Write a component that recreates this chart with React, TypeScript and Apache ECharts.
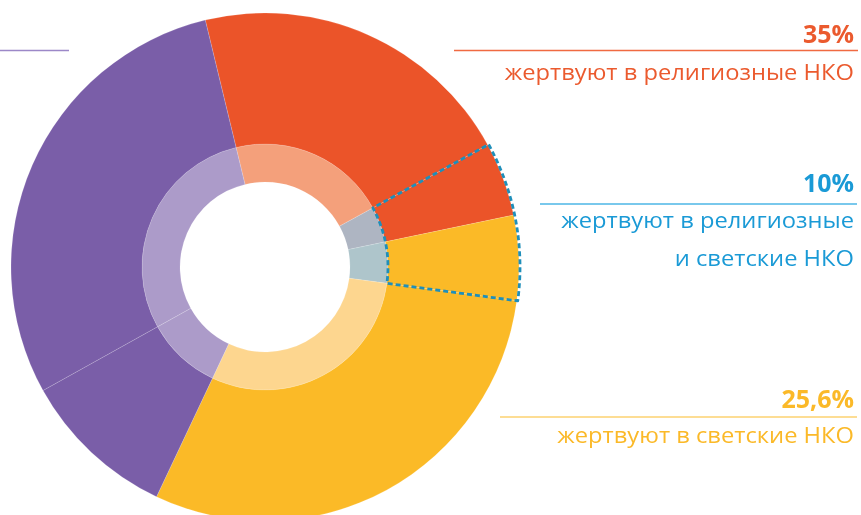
import React, { useEffect, useRef } from "react";
import * as echarts from "echarts";

// Segments, clockwise from the top-left orange/purple boundary
const segments = ["religious only", "religious (both)", "secular (both)", "secular only", "other A", "other B"];
const segmentValues = [20.8, 4.7, 5.4, 29.9, 9.9, 29.3];
const outerColors = ["#EB5429", "#EB5429", "#FBBA27", "#FBBA27", "#7A5EA8", "#7A5EA8"];
const innerColors = ["#F4A07B", "#AEB5C2", "#AEC5CB", "#FDD68F", "#AC9BC9", "#AC9BC9"];
const dashedFlags = [false, true, true, false, false, false];

const labelValues = ["35%", "10%", "25,6%"];
const labelTexts = [["жертвуют в религиозные НКО"], ["жертвуют в религиозные", "и светские НКО"], ["жертвуют в светские НКО"]];
const labelColors = ["#EB5A2E", "#1A9AD6", "#FBB928"];
const lineColors = ["#F06A42", "#4DB6E6", "#FDD271"];

export default function App() {
  const ref = useRef<HTMLDivElement>(null);
  useEffect(() => {
    if (!ref.current) return;
    const chart = echarts.init(ref.current, null, { renderer: "svg" });
    const center = [265, 267];
    const startAngle = 103.6;

    const dashedData: any[] = [];
    let acc = 0;
    let accFlag: boolean | null = null;
    segmentValues.forEach((v, i) => {
      if (accFlag === null || accFlag === dashedFlags[i]) {
        acc += v;
        accFlag = dashedFlags[i];
      } else {
        dashedData.push({ value: acc, dashed: accFlag });
        acc = v;
        accFlag = dashedFlags[i];
      }
    });
    dashedData.push({ value: acc, dashed: accFlag });

    const font = "'Open Sans', 'Noto Sans', sans-serif";
    const graphics: any[] = [
      { type: "line", shape: { x1: 0, y1: 50.5, x2: 69, y2: 50.5 }, style: { stroke: "#9C88C8", lineWidth: 1.5 } },
      { type: "line", shape: { x1: 454, y1: 50.5, x2: 858, y2: 50.5 }, style: { stroke: lineColors[0], lineWidth: 1.5 } },
      { type: "line", shape: { x1: 540, y1: 204, x2: 857, y2: 204 }, style: { stroke: lineColors[1], lineWidth: 1.5 } },
      { type: "line", shape: { x1: 500, y1: 417, x2: 857, y2: 417 }, style: { stroke: lineColors[2], lineWidth: 1.5 } },
    ];
    const numY = [33.4, 182.2, 397.5];
    const textY = [[72], [220.5, 258.5], [435]];
    labelValues.forEach((t, i) => {
      graphics.push({
        type: "text",
        x: 854,
        y: numY[i],
        style: { text: t, fill: labelColors[i], font: `bold 25px ${font}`, align: "right", verticalAlign: "middle" },
      });
      labelTexts[i].forEach((line, j) => {
        graphics.push({
          type: "text",
          x: 854,
          y: textY[i][j],
          scaleX: 1.13,
          style: { text: line, fill: labelColors[i], font: `21px ${font}`, align: "right", verticalAlign: "middle" },
        });
      });
    });

    chart.setOption({
      animation: false,
      series: [
        {
          type: "pie",
          center,
          radius: [85, 123],
          startAngle,
          clockwise: true,
          silent: true,
          label: { show: false },
          labelLine: { show: false },
          data: segments.map((n, i) => ({
            name: n,
            value: segmentValues[i],
            itemStyle: { color: innerColors[i], borderColor: "rgba(255,255,255,0.25)", borderWidth: 0.6 },
          })),
        },
        {
          type: "pie",
          center,
          radius: [123, 254],
          startAngle,
          clockwise: true,
          silent: true,
          label: { show: false },
          labelLine: { show: false },
          data: segments.map((n, i) => ({
            name: n,
            value: segmentValues[i],
            itemStyle: { color: outerColors[i], borderColor: "rgba(255,255,255,0.25)", borderWidth: 0.6 },
          })),
        },
        {
          type: "pie",
          center,
          radius: [123, 255],
          startAngle,
          clockwise: true,
          silent: true,
          z: 5,
          label: { show: false },
          labelLine: { show: false },
          data: dashedData.map((d) => ({
            value: d.value,
            itemStyle: d.dashed
              ? { color: "rgba(0,0,0,0)", borderColor: "#1F8FBA", borderWidth: 2.8, borderType: [5, 3] }
              : { color: "rgba(0,0,0,0)", borderWidth: 0 },
          })),
        },
      ],
      graphic: graphics,
    });
    return () => chart.dispose();
  }, []);
  return <div ref={ref} style={{ position: "fixed", left: 0, top: 0, width: 861, height: 515 }} />;
}
